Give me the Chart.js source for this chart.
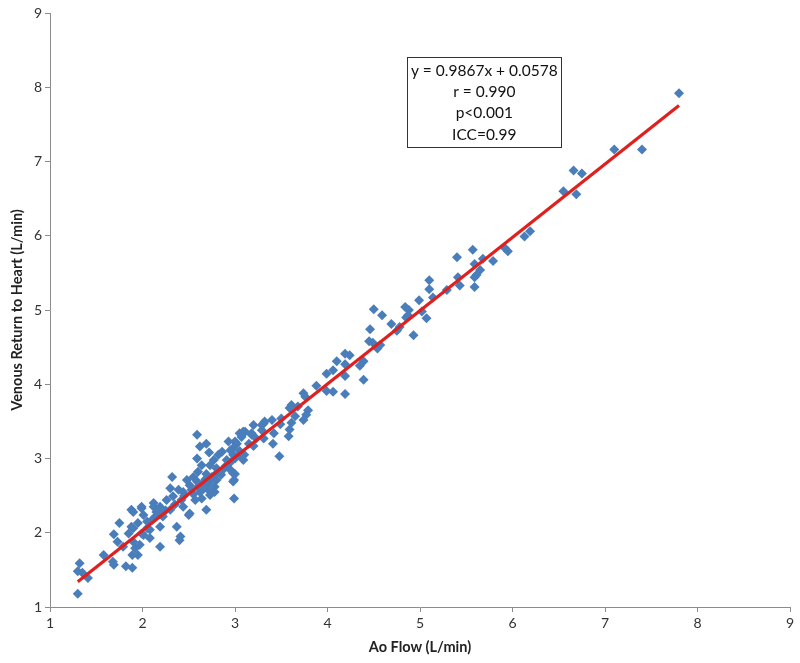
<!DOCTYPE html>
<html>
<head>
<meta charset="utf-8">
<title>Venous return vs Ao flow</title>
<script src="https://cdn.jsdelivr.net/npm/chart.js@4.4.1/dist/chart.umd.min.js"></script>
<style>
  html, body { margin: 0; padding: 0; background: #fff; }
  #wrap { width: 800px; height: 663px; }
</style>
</head>
<body>
<div id="wrap"><canvas id="flowChart"></canvas></div>
<script>
// ------------------- DATA -------------------
// Ao flow (x) and venous return (y), L/min
const aoFlow = [
  1.30, 1.32, 1.30, 1.35, 1.41, 1.58, 1.68, 1.69, 1.82, 1.89, 1.69, 1.75, 1.73, 1.79, 1.88, 1.90,
  1.99, 1.88, 1.85, 1.90, 1.92, 1.89, 1.95, 1.97, 1.99, 2.08, 2.08, 2.12, 2.14, 2.19, 2.05, 2.40,
  2.50, 2.59, 2.69, 2.62, 2.72, 2.93, 3.02, 2.95, 2.86, 2.82, 2.98, 3.05, 3.09, 2.91, 2.77, 2.59,
  2.64, 2.73, 2.80, 2.87, 2.60, 2.69, 2.95, 3.00, 2.99, 2.32, 2.48, 2.51, 2.59, 2.66, 2.73, 2.80,
  2.78, 2.71, 2.62, 2.53, 2.44, 2.73, 2.64, 2.57, 2.30, 2.39, 2.33, 2.42, 2.26, 2.51, 2.69, 2.99,
  2.44, 2.19, 2.12, 2.15, 2.30, 2.22, 1.99, 2.01, 2.10, 2.19, 2.37, 1.95, 2.05, 1.90, 2.01, 2.41,
  3.32, 3.29, 3.11, 3.18, 3.23, 3.05, 3.09,
  2.35, 2.45, 2.55, 2.60, 2.65, 2.70, 2.75, 2.80, 2.85, 2.90, 2.95, 3.00, 3.05, 3.10, 3.15, 2.25,
  2.20, 2.55, 2.68, 2.78, 2.98, 2.98,
  3.99, 3.88, 3.99, 4.06, 4.19, 3.74, 3.76, 3.61, 3.59, 3.68, 3.79, 3.77, 3.74, 3.65, 3.61, 3.59,
  3.58, 3.50, 3.49, 3.40, 3.42, 3.41, 3.48, 3.31, 3.29, 3.20, 3.18, 3.09, 3.07, 3.20, 3.31, 3.00,
  2.98,
  4.50, 4.59, 4.69, 4.78, 4.75, 4.93, 4.46, 4.45, 4.49, 4.57, 4.54, 4.19, 4.24, 4.10, 4.39, 4.35,
  4.19, 4.06, 4.19, 4.39, 4.87, 4.85,
  7.80, 7.10, 7.40, 6.66, 6.75, 6.55, 6.69, 6.13, 6.19, 5.92, 5.95, 5.79, 5.68, 5.57, 5.40, 5.59,
  5.65, 5.61, 5.59, 5.43, 5.41, 5.29, 5.10, 5.10, 5.14, 4.99, 4.84, 4.88, 5.02, 5.07, 5.59
];
const venousReturn = [
  1.18, 1.59, 1.48, 1.46, 1.39, 1.70, 1.61, 1.57, 1.55, 1.53, 1.98, 2.13, 1.88, 1.81, 2.31, 2.28,
  2.35, 2.08, 1.99, 1.88, 1.79, 1.70, 1.70, 1.84, 1.99, 2.04, 1.93, 2.35, 2.22, 1.81, 2.15, 1.90,
  2.24, 3.32, 3.20, 3.16, 3.08, 3.23, 3.20, 3.11, 3.09, 3.05, 3.05, 3.05, 2.98, 2.98, 2.98, 3.00,
  2.91, 2.91, 2.87, 2.85, 2.82, 2.79, 2.85, 2.79, 2.71, 2.75, 2.71, 2.64, 2.69, 2.67, 2.69, 2.71,
  2.62, 2.58, 2.55, 2.58, 2.55, 2.51, 2.46, 2.44, 2.60, 2.58, 2.49, 2.44, 2.44, 2.26, 2.31, 2.46,
  2.35, 2.35, 2.40, 2.28, 2.31, 2.22, 2.33, 2.24, 2.17, 2.08, 2.08, 2.13, 2.06, 2.06, 1.97, 1.95,
  3.50, 3.45, 3.36, 3.32, 3.27, 3.34, 3.36,
  2.38, 2.50, 2.52, 2.62, 2.58, 2.65, 2.75, 2.80, 2.78, 2.90, 2.95, 3.00, 3.10, 3.05, 3.20, 2.30,
  2.25, 2.75, 2.72, 2.55, 2.80, 2.69,
  4.14, 3.98, 3.91, 3.90, 3.87, 3.88, 3.83, 3.72, 3.68, 3.70, 3.65, 3.59, 3.52, 3.57, 3.48, 3.39,
  3.30, 3.54, 3.46, 3.52, 3.34, 3.20, 3.03, 3.47, 3.38, 3.45, 3.34, 3.36, 3.29, 3.17, 3.27, 3.23,
  3.14,
  5.01, 4.93, 4.81, 4.77, 4.72, 4.66, 4.74, 4.58, 4.56, 4.53, 4.48, 4.41, 4.39, 4.31, 4.31, 4.25,
  4.27, 4.19, 4.11, 4.06, 4.93, 4.90,
  7.92, 7.16, 7.16, 6.88, 6.84, 6.60, 6.56, 5.99, 6.06, 5.83, 5.79, 5.66, 5.69, 5.81, 5.71, 5.62,
  5.54, 5.47, 5.31, 5.33, 5.44, 5.27, 5.40, 5.28, 5.17, 5.13, 5.04, 5.00, 4.98, 4.89, 5.44
];

// regression line printed on the chart
const fitSlope = 0.9867;
const fitIntercept = 0.0578;
const fitRange = [1.3, 7.8];

const statsLines = ["y = 0.9867x + 0.0578", "r = 0.990", "p<0.001", "ICC=0.99"];

const axisTicks = [1, 2, 3, 4, 5, 6, 7, 8, 9];

// ------------------- PLUGINS -------------------
const FONT = "Lato, 'Liberation Sans', sans-serif";

// text box with the fit statistics
const statsBox = {
  id: "statsBox",
  afterDraw(chart) {
    const { ctx, scales } = chart;
    const left = scales.x.getPixelForValue(4.86);
    const right = scales.x.getPixelForValue(6.53);
    const top = scales.y.getPixelForValue(8.41);
    const bottom = scales.y.getPixelForValue(7.20);
    ctx.save();
    ctx.fillStyle = "#fff";
    ctx.fillRect(left, top, right - left, bottom - top);
    ctx.strokeStyle = "#333";
    ctx.lineWidth = 1;
    ctx.strokeRect(Math.round(left) + 0.5, Math.round(top) + 0.5, Math.round(right - left), Math.round(bottom - top));
    ctx.fillStyle = "#111";
    ctx.font = "15.5px " + FONT;
    ctx.textAlign = "center";
    ctx.textBaseline = "middle";
    const cx = (left + right) / 2;
    statsLines.forEach((line, i) => {
      ctx.fillText(line, cx, top + 14 + i * 21.3);
    });
    ctx.restore();
  }
};

// ------------------- CHART -------------------
const points = aoFlow.map((x, i) => ({ x: x, y: venousReturn[i] }));
const fitLine = fitRange.map(x => ({ x: x, y: fitSlope * x + fitIntercept }));

const ctx = document.getElementById("flowChart").getContext("2d");

const axisStyle = (titleText, fixSize) => ({
  type: "linear",
  min: 1,
  max: 9,
  afterBuildTicks: scale => { scale.ticks = axisTicks.map(v => ({ value: v })); },
  afterFit: fixSize,
  border: { display: true, color: "#8c8c8c", width: 1 },
  grid: { drawOnChartArea: false, drawTicks: true, tickLength: 5, color: "#8c8c8c" },
  ticks: { color: "#333", font: { family: FONT, size: 14 }, padding: 3 },
  title: {
    display: true,
    text: titleText,
    color: "#222",
    font: { family: FONT, size: 14.5, weight: "bold" }
  }
});

const xAxis = axisStyle("Ao Flow (L/min)", s => { s.height = 56; });
xAxis.title.padding = { top: 0, bottom: 7 };
const yAxis = axisStyle("Venous Return to Heart (L/min)", s => { s.width = 50; });
yAxis.title.padding = { top: 9, bottom: 0 };

const flowChart = new Chart(ctx, {
  type: "scatter",
  data: {
    datasets: [
      {
        label: "Linear fit",
        type: "line",
        data: fitLine,
        borderColor: "#e0201e",
        borderWidth: 3.2,
        pointRadius: 0,
        fill: false,
        order: 0
      },
      {
        label: "Venous return",
        data: points,
        pointStyle: "rectRot",
        pointRadius: 5,
        pointBackgroundColor: "#4a7ebb",
        pointBorderColor: "#4a7ebb",
        pointBorderWidth: 0,
        order: 1
      }
    ]
  },
  options: {
    responsive: true,
    maintainAspectRatio: false,
    animation: false,
    layout: { padding: { top: 13, right: 10, bottom: 0, left: 0 } },
    scales: { x: xAxis, y: yAxis },
    plugins: {
      legend: { display: false },
      tooltip: { enabled: false }
    }
  },
  plugins: [statsBox]
});
</script>
</body>
</html>
